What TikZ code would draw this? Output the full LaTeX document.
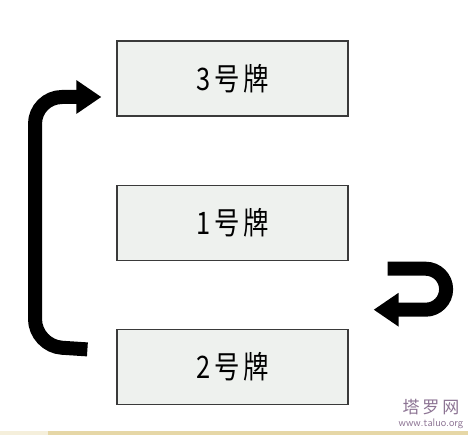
\documentclass[tikz,border=0pt]{standalone}
\usepackage{fontspec}
\usepackage{tikz}
\usetikzlibrary{positioning,arrows.meta}
\newfontfamily\cjk[LetterSpace=14]{Noto Sans CJK SC}
\newfontfamily\wmfont{Noto Sans CJK SC}
\definecolor{cardfill}{HTML}{EEF1EE}
\definecolor{cardline}{HTML}{3A3A3A}
\definecolor{wmark}{HTML}{8C7393}
\definecolor{strip}{HTML}{E6D7A6}

\begin{document}
\begin{tikzpicture}[%
  x=1pt, y=-1pt,
  node distance=68pt,
  card/.style={draw=cardline, line width=1.2pt, fill=cardfill,
    minimum width=231pt, minimum height=75pt, inner sep=0pt,
    font=\cjk\fontsize{31}{31}\selectfont},
  turn/.style={line width=14pt, -{Triangle[length=25pt,width=32pt]}}]
  \useasboundingbox (0,0) rectangle (468,435);
  \fill[white] (0,0) rectangle (468,435);
  \fill[strip!40] (0,431) rectangle (48,435);
  \fill[strip] (48,431) rectangle (468,435);

  \node[card] (card3) at (232.5,78.5) {\scalebox{0.82}[1]{3号牌}};
  \node[card, below=of card3] (card1) {\scalebox{0.82}[1]{1号牌}};
  \node[card, below=of card1] (card2) {\scalebox{0.82}[1]{2号牌}};

  \coordinate[above left=17.5pt and 29pt of card2.west] (out2);
  \coordinate[below left=18.5pt and 15pt of card3.west] (in3);
  \draw[turn, rounded corners=27pt] (out2) -- (35,346) -- (35,97) -- (in3);

  \coordinate[above right=-46pt and 39pt of card1.east] (out1);
  \coordinate[above right=-87pt and 25pt of card1.east] (in1);
  \draw[turn] (out1) -- ++(38,0) arc[start angle=-90, end angle=90, radius=20.5]
    -- (in1);

  \node[wmark, font=\wmfont\fontsize{17}{17}\selectfont] (wmtitle) at (431,407) {塔\,罗\,网};
  \node[wmark, font=\sffamily\fontsize{11}{11}\selectfont, below=-3pt of wmtitle] (wmurl) {www.taluo.org};
\end{tikzpicture}
\end{document}
